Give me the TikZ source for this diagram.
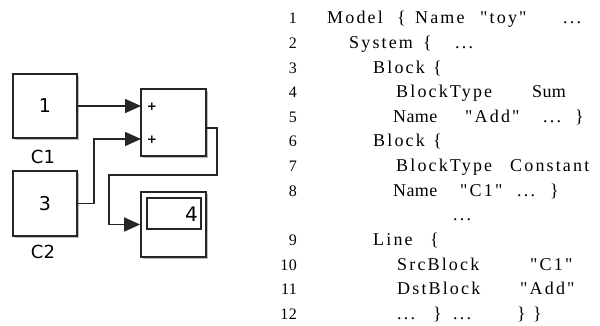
\documentclass[tikz,border=0pt]{standalone}
\usepackage{fontspec}
\usetikzlibrary{arrows.meta,shadows}
\newfontfamily\codefont[LetterSpace=12]{Liberation Serif}
\newfontfamily\plainfont[LetterSpace=2]{Liberation Serif}
\newfontfamily\blkfont{DejaVu Sans}
\tikzset{
  code/.style={inner sep=0pt, anchor=base west, font=\codefont\fontsize{18}{18}\selectfont},
  plain/.style={inner sep=0pt, anchor=base west, font=\plainfont\fontsize{18}{18}\selectfont},
  lno/.style={inner sep=0pt, anchor=base east, font=\plainfont\fontsize{16}{16}\selectfont},
  blk/.style={draw=black!85, line width=1.8pt, fill=white, inner sep=0pt,
    drop shadow={shadow xshift=2pt, shadow yshift=-2pt, fill=black!45, opacity=0.6},
    font=\blkfont\fontsize{19}{19}\selectfont},
  lbl/.style={inner sep=0pt, font=\blkfont\fontsize{18}{18}\selectfont},
  plus/.style={inner sep=0pt, font=\blkfont\bfseries\fontsize{12}{12}\selectfont},
  conn/.style={line width=1.5pt, black!85},
  arr/.style={conn, -{Triangle[length=16pt,width=14pt]}},
}
\newcommand{\rowy}[1]{24+24.6*#1}
\begin{document}
\begin{tikzpicture}[x=1pt,y=-1pt]
\useasboundingbox (0,0) rectangle (600,326);
% ---- left diagram ----
\node[blk, minimum width=64pt, minimum height=64pt] (c1) at (45,106) {1};
\node[blk, minimum width=64pt, minimum height=65pt] (c2) at (45,203.5) {3};
\node[lbl] (c1l) at (43,157) {C1};
\node[lbl] (c2l) at (43,252) {C2};
\node[blk, minimum width=65pt, minimum height=67pt] (sum) at (173.5,122.5) {};
\node[plus] (p1) at (152,107) {+};
\node[plus] (p2) at (152,140) {+};
\node[blk, minimum width=65pt, minimum height=65pt] (disp) at (173.5,224.5) {};
\node[draw=black!85, line width=1.6pt, minimum width=54pt, minimum height=31pt, inner sep=0pt] (scr) at (174,213.5) {};
\node[inner sep=0pt, anchor=base east, font=\blkfont\fontsize{20}{20}\selectfont] (v4) at (198,222) {4};
\coordinate (in1) at (141,106);
\coordinate (in2) at (141,139);
\coordinate (out) at (206,128);
\coordinate (turn) at (109,175);
\draw[arr] (c1.east) -- (in1);
\draw[arr] (c2.east) -- ++(16,0) |- (in2);
\draw[arr] (out) -- ++(11,0) |- (turn) |- (disp.west);
% ---- line numbers ----
\node[lno] (n1) at (297,{\rowy{0}}) {1};
\node[lno] (n2) at (297,{\rowy{1}}) {2};
\node[lno] (n3) at (297,{\rowy{2}}) {3};
\node[lno] (n4) at (297,{\rowy{3}}) {4};
\node[lno] (n5) at (297,{\rowy{4}}) {5};
\node[lno] (n6) at (297,{\rowy{5}}) {6};
\node[lno] (n7) at (297,{\rowy{6}}) {7};
\node[lno] (n8) at (297,{\rowy{7}}) {8};
\node[lno] (n9) at (297,{\rowy{9}}) {9};
\node[lno] (n10) at (297,{\rowy{10}}) {10};
\node[lno] (n11) at (297,{\rowy{11}}) {11};
\node[lno] (n12) at (297,{\rowy{12}}) {12};
% ---- code ----
\node[code] (a1) at (327,{\rowy{0}}) {Model};
\node[code] (a2) at (397,{\rowy{0}}) {\{};
\node[code] (a3) at (415,{\rowy{0}}) {Name};
\node[code] (a4) at (480,{\rowy{0}}) {"toy"};
\node[code] (a5) at (563,{\rowy{0}}) {...};
\node[code] (b1) at (349,{\rowy{1}}) {System};
\node[code] (b2) at (423,{\rowy{1}}) {\{};
\node[code] (b3) at (455,{\rowy{1}}) {...};
\node[code] (c1t) at (373,{\rowy{2}}) {Block};
\node[code] (c2t) at (433,{\rowy{2}}) {\{};
\node[code] (d1) at (396,{\rowy{3}}) {BlockType};
\node[plain] (d2) at (532,{\rowy{3}}) {Sum};
\node[plain] (e1) at (393,{\rowy{4}}) {Name};
\node[code] (e2) at (465,{\rowy{4}}) {"Add"};
\node[code] (e3) at (543,{\rowy{4}}) {...};
\node[code] (e4) at (575,{\rowy{4}}) {\}};
\node[code] (f1) at (373,{\rowy{5}}) {Block};
\node[code] (f2) at (433,{\rowy{5}}) {\{};
\node[code] (g1) at (396,{\rowy{6}}) {BlockType};
\node[code] (g2) at (510,{\rowy{6}}) {Constant};
\node[plain] (h1) at (393,{\rowy{7}}) {Name};
\node[code] (h2) at (460,{\rowy{7}}) {"C1"};
\node[code] (h3) at (517,{\rowy{7}}) {...};
\node[code] (h4) at (550,{\rowy{7}}) {\}};
\node[code] (i1) at (453,{\rowy{8}}) {...};
\node[code] (j1) at (373,{\rowy{9}}) {Line};
\node[code] (j2) at (430,{\rowy{9}}) {\{};
\node[code] (k1) at (397,{\rowy{10}}) {SrcBlock};
\node[code] (k2) at (530,{\rowy{10}}) {"C1"};
\node[code] (l1) at (397,{\rowy{11}}) {DstBlock};
\node[code] (l2) at (520,{\rowy{11}}) {"Add"};
\node[code] (m1) at (397,{\rowy{12}}) {...};
\node[code] (m2) at (433,{\rowy{12}}) {\}};
\node[code] (m3) at (453,{\rowy{12}}) {...};
\node[code] (m4) at (517,{\rowy{12}}) {\}};
\node[code] (m5) at (533,{\rowy{12}}) {\}};
\end{tikzpicture}
\end{document}
